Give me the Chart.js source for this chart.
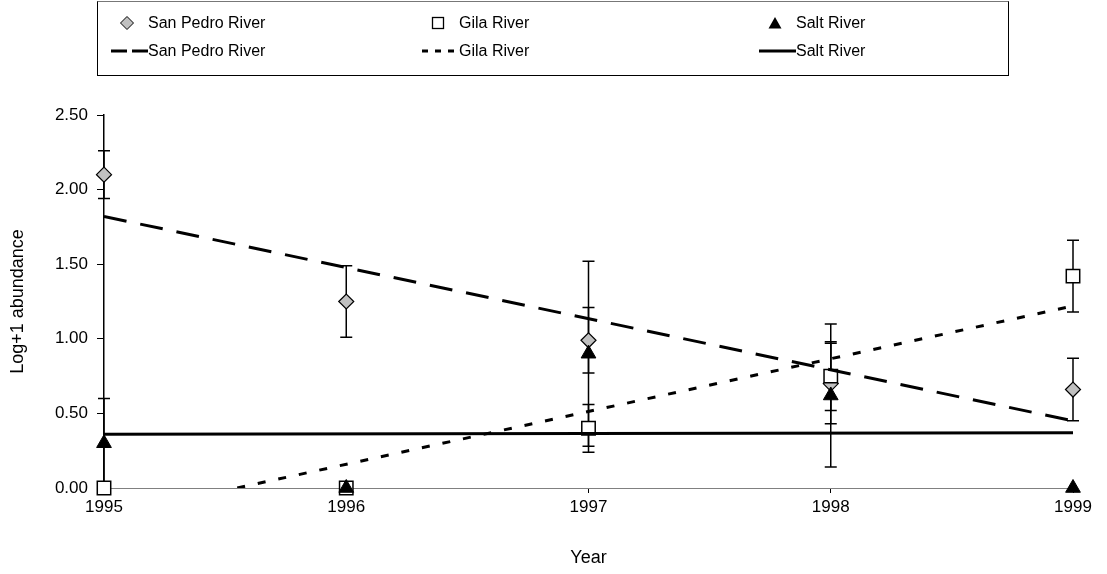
<!DOCTYPE html>
<html>
<head>
<meta charset="utf-8">
<script src="https://cdn.jsdelivr.net/npm/chart.js@4.4.1/dist/chart.umd.min.js"></script>
<style>
  body { margin: 0; background: #fff; font-family: "Liberation Sans", Arial, sans-serif; }
  #wrap { position: relative; width: 1107px; height: 574px; }
  #chart { position: absolute; left: 0; top: 0; }
  #legend { position: absolute; left: 97px; top: 1px; width: 912px; height: 75px; border: 1px solid #000; border-top-color: #777; box-sizing: border-box; }
  .lg { position: absolute; font-size: 16px; line-height: 20px; color: #000; white-space: nowrap; }
  .sw { position: absolute; }
</style>
</head>
<body>
<div id="wrap">
  <canvas id="chart" width="1107" height="574"></canvas>
  <div id="legend"></div>
</div>
<script>
// data
const years = [1995, 1996, 1997, 1998, 1999];
const sanPedro = [2.10, 1.25, 0.99, 0.70, 0.66];
const sanPedroErr = [0.16, 0.24, 0.22, 0.27, 0.21];
const gila = [0.00, 0.00, 0.40, 0.75, 1.42];
const gilaErr = [0, 0, 0.16, 0.23, 0.24];
const salt = [0.30, 0.00, 0.90, 0.62, 0.00];
const saltErr = [0.30, 0, 0.62, 0.48, 0];

// trend lines (end points as seen on the plot)
const sanPedroTrendX = [1995, 1999];
const sanPedroTrendY = [1.82, 0.45];
const gilaTrendX = [1995.55, 1999];
const gilaTrendY = [0.00, 1.22];
const saltTrendX = [1995, 1999];
const saltTrendY = [0.36, 0.37];

const yTicks = [0, 0.5, 1, 1.5, 2, 2.5];

const pts = (xs, ys) => xs.map((x, i) => ({ x: x, y: ys[i] }));

// legend (html so the text stays text)
const legendCols = [
  { name: 'San Pedro River', text: 147, marker: '<polygon points="7,0.5 13.5,7 7,13.5 0.5,7" fill="#c0c0c0" stroke="#000" stroke-width="1"/>', line: '<line x1="0" y1="7" x2="37" y2="7" stroke="#000" stroke-width="3" stroke-dasharray="16,5"/>' },
  { name: 'Gila River', text: 458, marker: '<rect x="1.5" y="1.5" width="11" height="11" fill="#fff" stroke="#000" stroke-width="1.3"/>', line: '<line x1="0" y1="7" x2="37" y2="7" stroke="#000" stroke-width="3" stroke-dasharray="6,7"/>' },
  { name: 'Salt River', text: 795, marker: '<polygon points="7,1 13.5,12.5 0.5,12.5" fill="#000"/>', line: '<line x1="0" y1="7" x2="37" y2="7" stroke="#000" stroke-width="3"/>' }
];
const legend = document.getElementById('legend');
let html = '';
legendCols.forEach(c => {
  const tx = c.text - 97;
  html += '<svg class="sw" width="14" height="14" style="left:' + (tx - 28) + 'px;top:14px">' + c.marker + '</svg>';
  html += '<span class="lg" style="left:' + tx + 'px;top:11px">' + c.name + '</span>';
  html += '<svg class="sw" width="37" height="14" style="left:' + (tx - 37) + 'px;top:42px">' + c.line + '</svg>';
  html += '<span class="lg" style="left:' + tx + 'px;top:39px">' + c.name + '</span>';
});
legend.innerHTML = html;

// error bars drawn under the markers
const errorBars = {
  id: 'errorBars',
  beforeDatasetsDraw(chart) {
    const ctx = chart.ctx;
    const xs = chart.scales.x, ys = chart.scales.y;
    ctx.save();
    ctx.strokeStyle = '#000';
    ctx.lineWidth = 1.5;
    chart.data.datasets.forEach(ds => {
      if (!ds.err) return;
      ds.data.forEach((p, i) => {
        const e = ds.err[i];
        if (!e) return;
        const x = xs.getPixelForValue(p.x);
        const y1 = ys.getPixelForValue(p.y + e);
        const y2 = ys.getPixelForValue(Math.max(0, p.y - e));
        ctx.beginPath();
        ctx.moveTo(x, y1); ctx.lineTo(x, y2);
        ctx.moveTo(x - 6, y1); ctx.lineTo(x + 6, y1);
        ctx.moveTo(x - 6, y2); ctx.lineTo(x + 6, y2);
        ctx.stroke();
      });
    });
    ctx.restore();
  }
};

const tickFont = { family: 'Liberation Sans', size: 17 };
const titleFont = { family: 'Liberation Sans', size: 18 };

const ctx = document.getElementById('chart').getContext('2d');
new Chart(ctx, {
  type: 'scatter',
  data: {
    datasets: [
      { label: 'Salt River trend', type: 'line', data: pts(saltTrendX, saltTrendY), borderColor: '#000', borderWidth: 3, pointRadius: 0, fill: false },
      { label: 'Gila River trend', type: 'line', data: pts(gilaTrendX, gilaTrendY), borderColor: '#000', borderWidth: 3, borderDash: [8, 13], pointRadius: 0, fill: false },
      { label: 'San Pedro River trend', type: 'line', data: pts(sanPedroTrendX, sanPedroTrendY), borderColor: '#000', borderWidth: 3, borderDash: [23, 14], pointRadius: 0, fill: false },
      { label: 'Salt River', data: pts(years, salt), err: saltErr, clip: false, pointStyle: 'triangle', pointRadius: 8.5, backgroundColor: '#000', borderColor: '#000', borderWidth: 1 },
      { label: 'Gila River', data: pts(years, gila), err: gilaErr, clip: false, pointStyle: 'rect', pointRadius: 9.5, backgroundColor: '#fff', borderColor: '#000', borderWidth: 1.5 },
      { label: 'San Pedro River', data: pts(years, sanPedro), err: sanPedroErr, clip: false, pointStyle: 'rectRot', pointRadius: 7.5, backgroundColor: '#c0c0c0', borderColor: '#000', borderWidth: 1.2 }
    ]
  },
  options: {
    responsive: false,
    animation: false,
    layout: { padding: { top: 115, right: 34, left: 0, bottom: 0 } },
    plugins: { legend: { display: false }, tooltip: { enabled: false } },
    scales: {
      x: {
        type: 'linear',
        min: 1995, max: 1999,
        afterFit: s => { s.height = 86; },
        afterBuildTicks: s => { s.ticks = years.map(v => ({ value: v })); },
        ticks: { color: '#000', font: tickFont, padding: 4, maxRotation: 0, callback: v => String(v) },
        grid: { drawOnChartArea: false, drawTicks: true, tickLength: 5, color: '#000' },
        border: { color: '#808080', width: 1 },
        title: { display: true, text: 'Year', color: '#000', font: titleFont, padding: { top: 0, bottom: 5 } }
      },
      y: {
        min: 0, max: 2.5,
        afterFit: s => { s.width = 104; },
        afterBuildTicks: s => { s.ticks = yTicks.map(v => ({ value: v })); },
        ticks: { color: '#000', font: tickFont, padding: 9, callback: v => v.toFixed(2) },
        grid: { drawOnChartArea: false, drawTicks: true, tickLength: 7, color: '#000' },
        border: { color: '#000', width: 1.5 },
        title: { display: true, text: 'Log+1 abundance', color: '#000', font: titleFont, padding: { top: 7, bottom: 0 } }
      }
    }
  },
  plugins: [errorBars]
});
</script>
</body>
</html>
